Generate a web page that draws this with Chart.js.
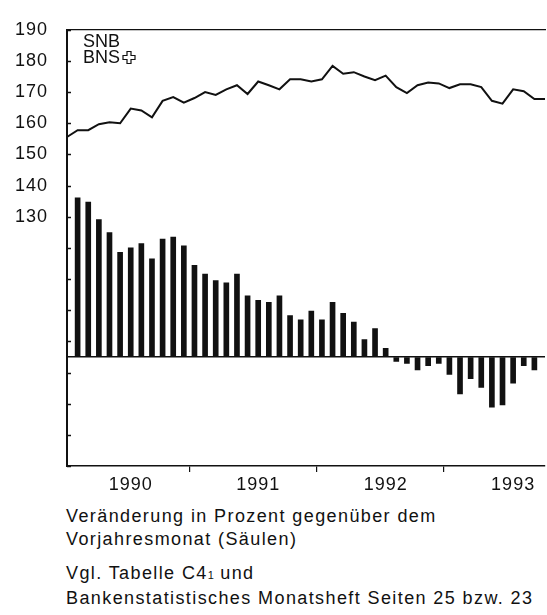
<!DOCTYPE html>
<html>
<head>
<meta charset="utf-8">
<script src="https://cdn.jsdelivr.net/npm/chart.js@4.4.1/dist/chart.umd.min.js"></script>
<style>
  html, body { margin: 0; padding: 0; background: #fff; }
  body { width: 547px; height: 615px; position: relative; overflow: hidden;
         font-family: "Liberation Sans", Arial, sans-serif; color: #111; }
  #wrap { position: absolute; left: 0; top: 0; width: 547px; height: 500px; }
  .note { position: absolute; left: 66px; font-size: 18px; line-height: 23px;
          letter-spacing: 1.4px; white-space: nowrap; }
  .sub { font-size: 11px; letter-spacing: 0; }
</style>
</head>
<body>
<div id="wrap"><canvas id="chart"></canvas></div>
<div class="note" style="top:505px">Veränderung in Prozent gegenüber dem<br>Vorjahresmonat (Säulen)</div>
<div class="note" style="top:562px">Vgl. Tabelle C4<span class="sub">1</span> und<br>Bankenstatistisches Monatsheft Seiten 25 bzw. 23</div>

<script>
// Monate Dez 1989 bis Sep 1993
const months = [
  'Dez 89',
  'Jan 90', 'Feb 90', 'Mär 90', 'Apr 90', 'Mai 90', 'Jun 90', 'Jul 90', 'Aug 90', 'Sep 90', 'Okt 90', 'Nov 90', 'Dez 90',
  'Jan 91', 'Feb 91', 'Mär 91', 'Apr 91', 'Mai 91', 'Jun 91', 'Jul 91', 'Aug 91', 'Sep 91', 'Okt 91', 'Nov 91', 'Dez 91',
  'Jan 92', 'Feb 92', 'Mär 92', 'Apr 92', 'Mai 92', 'Jun 92', 'Jul 92', 'Aug 92', 'Sep 92', 'Okt 92', 'Nov 92', 'Dez 92',
  'Jan 93', 'Feb 93', 'Mär 93', 'Apr 93', 'Mai 93', 'Jun 93', 'Jul 93', 'Aug 93', 'Sep 93'
];

// Niveau (Linie, linke Skala)
const levelValues = [
  155.6,
  157.8, 157.8, 159.7, 160.3, 160.0, 164.7, 164.1, 161.9, 167.2, 168.4, 166.6, 168.1,
  170.0, 169.1, 170.9, 172.2, 169.4, 173.4, 172.2, 170.9, 174.1, 174.1, 173.4, 174.1,
  178.4, 175.9, 176.4, 175.0, 173.8, 175.3, 171.6, 169.7, 172.2, 173.1, 172.8, 171.3,
  172.5, 172.5, 171.6, 167.2, 166.3, 170.9, 170.3, 167.8, 167.8
];

// Veränderung gegenüber Vorjahresmonat in % (Säulen)
const changeValues = [
  null,
  7.3, 7.1, 6.3, 5.7, 4.8, 5.0, 5.2, 4.5, 5.4, 5.5, 5.1, 4.2,
  3.8, 3.5, 3.4, 3.8, 2.8, 2.6, 2.5, 2.8, 1.9, 1.7, 2.1, 1.7,
  2.5, 2.0, 1.6, 0.8, 1.3, 0.4, -0.2, -0.3, -0.6, -0.4, -0.3, -0.8,
  -1.7, -1.0, -1.4, -2.3, -2.2, -1.2, -0.4, -0.6, null
];

const yearLabels = { 6: '1990', 18: '1991', 30: '1992', 42: '1993' };
const yearTicks = [0, 12, 24, 36];

const ink = '#111';
const fontFamily = '"Liberation Sans", Arial, sans-serif';

// kurze Striche innen an der linken Achse, Legende oben links
const extras = {
  id: 'extras',
  beforeDraw(chart) {
    chart.ctx.letterSpacing = '1px';
  },
  afterDraw(chart) {
    const ctx = chart.ctx;
    const area = chart.chartArea;
    const y = chart.scales.y;
    ctx.save();
    ctx.strokeStyle = ink;
    ctx.lineWidth = 1.5;
    y.ticks.forEach(t => {
      const py = Math.round(y.getPixelForValue(t.value)) + 0.5;
      ctx.beginPath();
      ctx.moveTo(area.left, py);
      ctx.lineTo(area.left + 4, py);
      ctx.stroke();
    });

    ctx.letterSpacing = '0px';
    ctx.fillStyle = ink;
    ctx.font = '18px ' + fontFamily;
    ctx.textBaseline = 'alphabetic';
    ctx.textAlign = 'left';
    ctx.fillText('SNB', area.left + 16, 47);
    ctx.fillText('BNS', area.left + 16, 63);

    // Kreuz neben BNS
    const cx = area.left + 62, cy = 57.5, a = 6, b = 2;
    ctx.lineWidth = 1.2;
    ctx.beginPath();
    ctx.moveTo(cx - b, cy - a);
    ctx.lineTo(cx + b, cy - a);
    ctx.lineTo(cx + b, cy - b);
    ctx.lineTo(cx + a, cy - b);
    ctx.lineTo(cx + a, cy + b);
    ctx.lineTo(cx + b, cy + b);
    ctx.lineTo(cx + b, cy + a);
    ctx.lineTo(cx - b, cy + a);
    ctx.lineTo(cx - b, cy + b);
    ctx.lineTo(cx - a, cy + b);
    ctx.lineTo(cx - a, cy - b);
    ctx.lineTo(cx - b, cy - b);
    ctx.closePath();
    ctx.stroke();
    ctx.restore();
  }
};

function drawChart() {
  const ctx = document.getElementById('chart').getContext('2d');
  new Chart(ctx, {
    type: 'bar',
    data: {
      labels: months,
      datasets: [
        {
          type: 'line',
          data: levelValues,
          yAxisID: 'y',
          borderColor: ink,
          borderWidth: 2,
          pointRadius: 0,
          tension: 0,
          fill: false
        },
        {
          type: 'bar',
          data: changeValues,
          yAxisID: 'y2',
          backgroundColor: ink,
          barThickness: 5
        }
      ]
    },
    options: {
      responsive: true,
      maintainAspectRatio: false,
      animation: false,
      layout: { padding: { top: 18, left: 0, right: 0, bottom: 0 } },
      plugins: { legend: { display: false }, tooltip: { enabled: false } },
      scales: {
        x: {
          type: 'category',
          offset: false,
          grid: {
            drawOnChartArea: false,
            drawTicks: true,
            tickLength: 6,
            lineWidth: 1.2,
            color: c => yearTicks.includes(c.index) ? ink : 'rgba(0,0,0,0)'
          },
          border: { color: ink, width: 1.5 },
          ticks: {
            autoSkip: false,
            maxRotation: 0,
            padding: 2,
            color: ink,
            font: { family: fontFamily, size: 18 },
            callback: (v, i) => yearLabels[i] || ''
          },
          afterFit: s => { s.height = 34; }
        },
        x2: {
          type: 'linear',
          position: 'top',
          grid: { display: false },
          ticks: { display: false },
          border: { color: ink, width: 1.2 },
          afterFit: s => { s.height = 0; }
        },
        y: {
          type: 'linear',
          position: 'left',
          min: 50,
          max: 190,
          grid: { drawOnChartArea: false, drawTicks: false },
          border: { color: ink, width: 2 },
          ticks: {
            stepSize: 10,
            padding: 19,
            color: ink,
            font: { family: fontFamily, size: 18 },
            callback: v => v >= 130 ? v : ''
          },
          afterFit: s => { s.width = 67; }
        },
        y2: {
          type: 'linear',
          position: 'right',
          min: -5,
          max: 15,
          grid: {
            drawOnChartArea: true,
            drawTicks: false,
            lineWidth: 1.5,
            color: c => c.tick && c.tick.value === 0 ? ink : 'rgba(0,0,0,0)'
          },
          border: { display: false },
          ticks: { display: false, stepSize: 5 },
          afterFit: s => { s.width = 0; }
        }
      }
    },
    plugins: [extras]
  });
}

document.addEventListener('DOMContentLoaded', drawChart);
</script>
</body>
</html>
